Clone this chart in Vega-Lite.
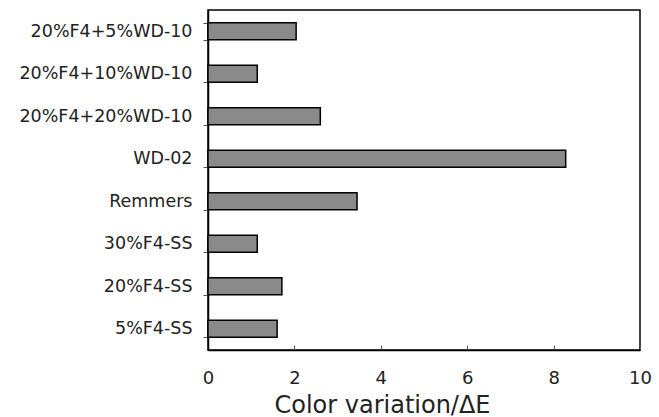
{
  "$schema": "https://vega.github.io/schema/vega-lite/v6.json",
  "width": 432,
  "height": 340,
  "autosize": {"type": "none"},
  "padding": {"left": 208, "top": 10, "right": 19, "bottom": 67},
  "background": "white",
  "data": {
    "values": [
      {"sample": "20%F4+5%WD-10", "dE": 2.04},
      {"sample": "20%F4+10%WD-10", "dE": 1.14},
      {"sample": "20%F4+20%WD-10", "dE": 2.6},
      {"sample": "WD-02", "dE": 8.28},
      {"sample": "Remmers", "dE": 3.45},
      {"sample": "30%F4-SS", "dE": 1.14},
      {"sample": "20%F4-SS", "dE": 1.71},
      {"sample": "5%F4-SS", "dE": 1.6}
    ]
  },
  "config": {
    "view": {"stroke": "black", "strokeWidth": 1.5},
    "font": "DejaVu Sans"
  },
  "mark": {"type": "bar", "fill": "#8a8a8a", "stroke": "black", "strokeWidth": 1.5},
  "encoding": {
    "y": {
      "field": "sample",
      "type": "nominal",
      "sort": null,
      "scale": {"paddingInner": 0.6, "paddingOuter": 0.3},
      "axis": {
        "title": null,
        "tickBand": "extent",
        "domainColor": "black",
        "domainWidth": 1.5,
        "tickColor": "#555",
        "tickSize": 5,
        "labelFontSize": 17.5,
        "labelColor": "#222",
        "labelPadding": 11,
        "grid": false
      }
    },
    "x": {
      "field": "dE",
      "type": "quantitative",
      "scale": {"domain": [0, 10], "nice": false},
      "axis": {
        "title": "Color variation/ΔE",
        "titleFontSize": 24,
        "titleFontWeight": "normal",
        "titleColor": "#222",
        "titlePadding": 6,
        "titleX": 174,
        "values": [0, 2, 4, 6, 8, 10],
        "grid": false,
        "domainColor": "black",
        "domainWidth": 1.5,
        "tickColor": "#555",
        "tickSize": -5,
        "labelFontSize": 18,
        "labelColor": "#222",
        "labelPadding": 24,
        "labelFlush": false
      }
    }
  }
}
